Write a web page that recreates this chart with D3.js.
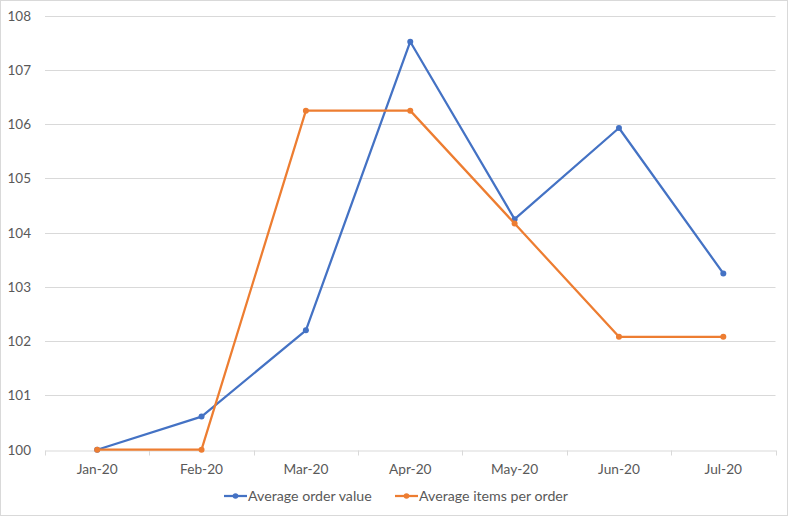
<!DOCTYPE html>
<html><head><meta charset="utf-8">
<script src="https://cdn.jsdelivr.net/npm/d3@7"></script>
<style>body{margin:0;background:#fff}svg{display:block}text{font-family:Lato,"Open Sans",sans-serif;fill:#595959}</style>
</head><body><svg id="c" width="789" height="517"></svg>
<script>
const categories = ["Jan-20","Feb-20","Mar-20","Apr-20","May-20","Jun-20","Jul-20"];
const orderValue = [100, 100.61, 102.2, 107.52, 104.25, 105.93, 103.25];
const itemsPerOrder = [100, 100, 106.25, 106.25, 104.17, 102.08, 102.08];
const seriesNames = ["Average order value","Average items per order"];
const yTicks = [100,101,102,103,104,105,106,107,108];
const colors = ["#4472C4","#ED7D31"];

const svg = d3.select("#c");
svg.append("rect").attr("x",0.5).attr("y",0.5).attr("width",787).attr("height",515)
  .attr("fill","#fff").attr("stroke","#d9d9d9");

const x = d3.scaleBand().domain(categories).range([45,775.5]);
const y = d3.scaleLinear().domain([100,108]).range([449.7,15.7]);

// gridlines
svg.append("g").selectAll("line").data(yTicks.slice(1)).join("line")
  .attr("x1",45).attr("x2",775.5).attr("y1",d=>Math.round(y(d))+0.5).attr("y2",d=>Math.round(y(d))+0.5)
  .attr("stroke","#d9d9d9").attr("stroke-width",1);

// y axis labels
const ya = svg.append("g").attr("transform","translate(31,0)")
  .call(d3.axisLeft(y).tickValues(yTicks).tickSize(0).tickPadding(0).tickFormat(d3.format("d")));
ya.select(".domain").remove();
ya.selectAll("text").attr("font-size",13.5).style("fill","#595959").style("font-family","Lato,sans-serif");

// x axis
const xa = svg.append("g").attr("transform",`translate(0,${Math.round(y(100))+0.5})`)
  .call(d3.axisBottom(x).tickSize(0).tickPadding(14));
xa.select(".domain").attr("stroke","#d9d9d9");
xa.selectAll("text").attr("font-size",13.7).style("fill","#595959").style("font-family","Lato,sans-serif");
// boundary tick marks
const bounds = categories.map(c=>x(c)).concat([x.range()[1]]);
xa.append("g").selectAll("line").data(bounds).join("line")
  .attr("x1",d=>Math.round(d)+0.5).attr("x2",d=>Math.round(d)+0.5).attr("y1",0).attr("y2",5)
  .attr("stroke","#d9d9d9");

const cx = c => x(c) + x.bandwidth()/2;
const line = d3.line().x((d,i)=>cx(categories[i])).y(d=>y(d));
[orderValue, itemsPerOrder].forEach((s,k)=>{
  const g = svg.append("g");
  g.append("path").datum(s).attr("d",line).attr("fill","none")
    .attr("stroke",colors[k]).attr("stroke-width",2.25).attr("stroke-linejoin","round");
  g.selectAll("circle").data(s).join("circle")
    .attr("cx",(d,i)=>cx(categories[i])).attr("cy",d=>y(d)).attr("r",3).attr("fill",colors[k]);
});

// legend
const legX = [224, 395];
seriesNames.forEach((n,k)=>{
  const g = svg.append("g").attr("transform",`translate(${legX[k]},496)`);
  g.append("line").attr("x1",0).attr("x2",23).attr("y1",0).attr("y2",0).attr("stroke",colors[k]).attr("stroke-width",2.25);
  g.append("circle").attr("cx",11.5).attr("cy",0).attr("r",2.8).attr("fill",colors[k]);
  g.append("text").attr("x",24).attr("y",0).attr("dy","0.35em").attr("font-size",14.2).text(n);
});
</script></body></html>
